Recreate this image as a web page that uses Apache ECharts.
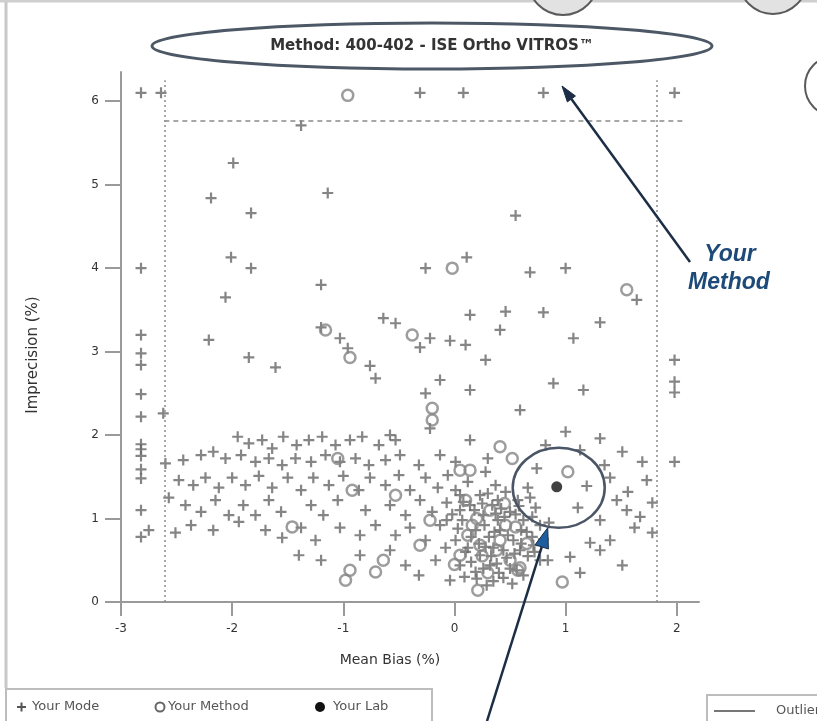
<!DOCTYPE html>
<html>
<head>
<meta charset="utf-8">
<script src="https://cdn.jsdelivr.net/npm/echarts@6/dist/echarts.min.js"></script>
<style>
  html, body { margin: 0; padding: 0; background: #ffffff; }
  #chart { width: 817px; height: 721px; }
</style>
</head>
<body>
<div id="chart"></div>
<script>
// Axis ticks
const xTicks = [-3, -2, -1, 0, 1, 2];
const yTicks = [0, 1, 2, 3, 4, 5, 6];

// Quality limits (mean bias and imprecision)
const biasLimits = [-2.61, 1.82];
const imprecisionLimit = 5.76;

// Peer labs, all methods (mean bias %, imprecision %)
const modePoints = [
  [-2.82, 6.1], [-2.64, 6.1], [-0.31, 6.1], [0.08, 6.1], [0.80, 6.1], [1.98, 6.1],
  [-1.38, 5.71], [-1.99, 5.26], [-2.19, 4.84], [-1.83, 4.66], [-1.14, 4.90], [0.55, 4.63],
  [-2.82, 4.0], [-2.01, 4.13], [-1.83, 4.0], [-2.06, 3.65], [-0.26, 4.0], [0.11, 4.13],
  [0.68, 3.95], [1.0, 4.0], [1.64, 3.62], [-1.20, 3.80], [-2.21, 3.14], [-1.20, 3.29],
  [-1.03, 3.16], [-0.96, 3.04], [-0.64, 3.40], [-0.53, 3.34], [-0.22, 3.16], [-0.04, 3.13],
  [0.10, 3.08], [0.14, 3.44], [0.46, 3.48], [-0.76, 2.83], [-0.71, 2.68], [-0.31, 3.05],
  [-0.13, 2.66], [0.28, 2.90], [0.41, 3.26], [0.80, 3.47], [1.31, 3.35], [1.07, 3.16],
  [-0.22, 2.08], [-0.26, 2.50], [0.14, 2.54], [0.59, 2.30], [1.16, 2.54], [0.89, 2.62],
  [-1.85, 2.93], [-1.61, 2.81], [-0.58, 2.00], [-2.62, 2.26], [-2.51, 0.83],
  [-2.82, 3.2], [-2.82, 2.98], [-2.82, 2.84], [-2.82, 2.49], [-2.82, 2.22], [-2.82, 1.89],
  [-2.82, 1.83], [-2.82, 1.75], [-2.82, 1.59], [-2.82, 1.48], [-2.82, 1.10], [-2.82, 0.78],
  [1.98, 2.90], [1.98, 2.64], [1.98, 2.51], [1.98, 1.68],
  [-1.95, 1.98], [-1.85, 1.90], [-1.73, 1.94], [-1.64, 1.84], [-1.54, 1.98], [-1.42, 1.88],
  [-1.31, 1.94], [-1.19, 1.98], [-1.07, 1.88], [-0.94, 1.94], [-0.83, 1.98], [-0.68, 1.88],
  [-0.53, 1.94], [0.14, 1.94], [0.82, 1.88], [1.0, 2.04], [1.31, 1.96],
  [-2.60, 1.66], [-2.44, 1.70], [-2.28, 1.76], [-2.17, 1.80], [-2.06, 1.72], [-1.92, 1.76],
  [-1.79, 1.68], [-1.67, 1.72], [-1.55, 1.64], [-1.43, 1.72], [-1.29, 1.68], [-1.16, 1.76],
  [-1.03, 1.68], [-0.89, 1.72], [-0.77, 1.64], [-0.62, 1.70], [-0.49, 1.76], [-0.32, 1.64],
  [-0.13, 1.76], [0.01, 1.68], [0.30, 1.72], [0.74, 1.60], [1.13, 1.82], [1.35, 1.64],
  [1.69, 1.68], [1.51, 1.80],
  [-2.48, 1.46], [-2.35, 1.40], [-2.24, 1.49], [-2.12, 1.37], [-2.00, 1.49], [-1.88, 1.40],
  [-1.76, 1.51], [-1.64, 1.37], [-1.50, 1.49], [-1.38, 1.34], [-1.27, 1.49], [-1.13, 1.40],
  [-1.00, 1.51], [-0.86, 1.34], [-0.76, 1.49], [-0.62, 1.40], [-0.50, 1.52], [-0.40, 1.34],
  [-0.26, 1.49], [-0.15, 1.37], [-0.06, 1.52], [0.37, 1.40], [1.19, 1.39], [1.73, 1.46],
  [1.56, 1.32], [1.40, 1.49],
  [-2.57, 1.25], [-2.42, 1.16], [-2.28, 1.08], [-2.15, 1.22], [-2.03, 1.04], [-1.90, 1.16],
  [-1.79, 1.04], [-1.67, 1.22], [-1.56, 1.08], [-1.29, 1.16], [-1.18, 1.04], [-1.05, 1.22],
  [-0.80, 1.10], [-0.58, 1.16], [-0.44, 1.04], [-0.31, 1.22], [-0.20, 1.08], [-0.07, 1.19],
  [0.05, 1.28], [1.46, 1.22], [1.55, 1.10], [1.67, 1.02], [1.78, 1.19], [1.11, 1.13], [1.31, 0.98],
  [-2.75, 0.86], [-2.37, 0.92], [-2.17, 0.86], [-1.94, 0.96], [-1.70, 0.86], [-1.55, 0.77],
  [-1.38, 0.89], [-1.25, 0.74], [-1.03, 0.89], [-0.85, 0.80], [-0.71, 0.92], [-0.53, 0.80],
  [-0.40, 0.89], [-0.26, 0.74], [-0.13, 0.92], [1.22, 0.71], [1.40, 0.74], [1.78, 0.83], [1.62, 0.89],
  [-1.40, 0.56], [-1.20, 0.50], [-0.85, 0.56], [-0.58, 0.62], [-0.44, 0.44], [-0.32, 0.32],
  [-0.17, 0.50], [1.04, 0.54], [1.13, 0.35], [1.51, 0.44], [1.31, 0.62], [0.84, 0.50],
  [0.01, 1.34], [0.12, 1.44], [0.23, 1.28], [0.34, 1.16], [0.46, 1.32], [0.57, 1.22],
  [0.66, 1.37], [0.14, 1.16], [0.26, 1.04], [0.39, 0.98], [0.50, 1.08], [0.62, 0.98],
  [0.73, 1.13], [0.07, 0.98], [0.19, 0.86], [0.31, 0.78], [0.41, 0.86], [0.53, 0.74],
  [0.65, 0.84], [0.77, 0.92], [0.01, 0.74], [0.12, 0.65], [0.23, 0.56], [0.35, 0.65],
  [0.47, 0.53], [0.59, 0.62], [0.71, 0.68], [0.05, 0.44], [0.19, 0.36], [0.32, 0.44],
  [0.44, 0.29], [0.56, 0.38], [0.29, 0.20], [-0.04, 0.26], [-0.07, 0.98], [-0.08, 0.65],
  [0.77, 0.50], [0.05, 1.10], [0.39, 1.22], [0.28, 1.56],
  [0.08, 1.20], [0.18, 1.10], [0.30, 1.30], [0.42, 1.12], [0.55, 1.05], [0.68, 1.25],
  [0.03, 0.88], [0.15, 0.78], [0.27, 0.92], [0.36, 0.84], [0.48, 0.80], [0.60, 0.86],
  [0.70, 0.78], [0.10, 0.60], [0.22, 0.70], [0.33, 0.55], [0.44, 0.62], [0.54, 0.58],
  [0.66, 0.55], [0.15, 0.48], [0.26, 0.40], [0.38, 0.46], [0.50, 0.40], [0.62, 0.32],
  [0.40, 0.35], [0.20, 0.28], [0.35, 0.25], [0.52, 0.22], [0.09, 0.30], [0.58, 1.15],
  [0.45, 1.02], [0.25, 1.18], [0.37, 1.06], [0.60, 0.70], [0.72, 0.60], [-0.02, 1.05],
  [0.80, 0.75], [0.85, 0.95], [0.70, 1.02], [0.28, 0.66]
];

// Peer labs on the same method
const methodPoints = [
  [-0.96, 6.07], [-1.16, 3.26], [-0.94, 2.93], [-0.38, 3.20], [-0.02, 4.0], [1.55, 3.74],
  [-0.20, 2.32], [-0.20, 2.18], [0.41, 1.86], [0.52, 1.72], [1.02, 1.56], [-1.46, 0.90],
  [-1.05, 1.72], [-0.92, 1.34], [-0.53, 1.28], [-0.94, 0.38], [-0.71, 0.36], [-0.98, 0.26],
  [-0.64, 0.50], [-0.31, 0.68], [0.05, 1.58], [0.14, 1.58], [0.05, 0.56], [0.23, 0.68],
  [0.41, 0.74], [0.50, 0.50], [0.59, 0.41], [0.21, 0.14], [0.97, 0.24], [0.57, 0.38],
  [0.16, 0.92], [0.32, 1.10], [0.46, 0.92], [0.10, 1.22], [-0.22, 0.98],
  [0.25, 0.55], [0.38, 0.62], [0.12, 0.80], [0.55, 0.90], [0.30, 0.35], [0.65, 0.70],
  [0.45, 1.18], [0.20, 1.00], [0.00, 0.45]
];

// This laboratory
const labPoints = [[0.92, 1.38]];

const methodTitle = 'Method: 400-402 - ISE Ortho VITROS\u2122';
const FONT = '"DejaVu Sans", "Liberation Sans", sans-serif';
const GREY = '#9a9a9a';
const plusPath = 'path://M4,0h2v10h-2z M0,4h10v2h-10z';

const chart = echarts.init(document.getElementById('chart'), null, { renderer: 'canvas' });

const option = {
  animation: false,
  backgroundColor: '#ffffff',
  grid: { left: 121, right: 118, top: 72, bottom: 119, containLabel: false },
  xAxis: {
    type: 'value', min: -3, max: 2.2, interval: 1,
    splitLine: { show: false },
    axisLine: { onZero: false, lineStyle: { color: GREY, width: 2 } },
    axisTick: { length: 14, lineStyle: { color: GREY, width: 2 }, customValues: xTicks },
    axisLabel: { margin: 21, color: '#333', fontFamily: FONT, fontSize: 12, customValues: xTicks }
  },
  yAxis: {
    type: 'value', min: 0, max: 6.35, interval: 1,
    splitLine: { show: false },
    axisLine: { onZero: false, lineStyle: { color: GREY, width: 2 } },
    axisTick: { length: 16, lineStyle: { color: GREY, width: 2 }, customValues: yTicks },
    axisLabel: { margin: 22, color: '#333', fontFamily: FONT, fontSize: 12, customValues: yTicks }
  },
  series: [
    {
      name: 'Limits', type: 'line', data: [], silent: true,
      markLine: {
        symbol: 'none', silent: true, label: { show: false },
        lineStyle: { color: '#8a8a8a', width: 1.5, type: [2, 3] },
        data: [
          [{ coord: [biasLimits[0], 0] }, { coord: [biasLimits[0], 6.25] }],
          [{ coord: [biasLimits[1], 0] }, { coord: [biasLimits[1], 6.25] }],
          [{ coord: [biasLimits[0], imprecisionLimit], lineStyle: { type: [5, 4] } },
           { coord: [2.05, imprecisionLimit] }]
        ]
      }
    },
    {
      name: 'Your Mode', type: 'scatter', data: modePoints,
      symbol: plusPath, symbolSize: 11,
      itemStyle: { color: '#666666' }
    },
    {
      name: 'Your Method', type: 'scatter', data: methodPoints,
      symbol: 'circle', symbolSize: 11,
      itemStyle: { color: 'rgba(255,255,255,0)', borderColor: '#858585', borderWidth: 2.5 }
    },
    {
      name: 'Your Lab', type: 'scatter', data: labPoints,
      symbol: 'circle', symbolSize: 11, z: 5,
      itemStyle: { color: '#111111' }
    }
  ]
};
chart.setOption(option);

// Annotation overlays
function arrow(x1, y1, x2, y2, lineColor, headColor, len, wid) {
  const dx = x2 - x1, dy = y2 - y1;
  const d = Math.sqrt(dx * dx + dy * dy);
  const ux = dx / d, uy = dy / d;
  const bx = x2 - ux * len, by = y2 - uy * len;
  const nx = -uy, ny = ux;
  return [
    { type: 'line', shape: { x1: x1, y1: y1, x2: bx, y2: by },
      style: { stroke: lineColor, lineWidth: 2.5 }, z: 20 },
    { type: 'polygon',
      shape: { points: [[x2, y2], [bx + nx * wid / 2, by + ny * wid / 2], [bx - nx * wid / 2, by - ny * wid / 2]] },
      style: { fill: headColor, stroke: lineColor, lineWidth: 1 }, z: 21 }
  ];
}

const lab = chart.convertToPixel({ gridIndex: 0 }, labPoints[0]);
const labTip = [lab[0] - 9, lab[1] + 41];

const graphics = [
  // outer panel frame
  { type: 'line', shape: { x1: 6, y1: 0, x2: 6, y2: 688 }, style: { stroke: '#c8c8c8', lineWidth: 3 } },
  { type: 'line', shape: { x1: 0, y1: 1, x2: 817, y2: 1 }, style: { stroke: '#cfcfcf', lineWidth: 3 } },
  // partially visible round buttons along the edges
  { type: 'circle', shape: { cx: 563, cy: -20, r: 35 }, style: { fill: '#e2e2e2', stroke: '#5a5a5a', lineWidth: 2 } },
  { type: 'circle', shape: { cx: 773, cy: -20, r: 34 }, style: { fill: '#e2e2e2', stroke: '#5a5a5a', lineWidth: 2 } },
  { type: 'circle', shape: { cx: 835, cy: 86, r: 30 }, style: { fill: '#ffffff', stroke: '#5a5a5a', lineWidth: 2 } },
  // method caption
  { type: 'ellipse', shape: { cx: 432, cy: 46, rx: 280, ry: 23 },
    style: { fill: '#ffffff', stroke: '#4d5866', lineWidth: 3 }, z: 10 },
  { type: 'text', x: 432, y: 46, z: 11,
    style: { text: methodTitle, fill: '#333', font: 'bold 15px ' + FONT, align: 'center', verticalAlign: 'middle' } },
  // axis titles
  { type: 'text', x: 33, y: 355, rotation: Math.PI / 2,
    style: { text: 'Imprecision (%)', fill: '#333', font: '15px ' + FONT, align: 'center', verticalAlign: 'middle' } },
  { type: 'text', x: 390, y: 660,
    style: { text: 'Mean Bias (%)', fill: '#333', font: '14px ' + FONT, align: 'center', verticalAlign: 'middle' } },
  // "Your Method" callout
  { type: 'text', x: 730, y: 255, z: 22,
    style: { text: 'Your', fill: '#1d4a78', font: 'italic bold 23px "Liberation Sans", Arial, sans-serif', align: 'center', verticalAlign: 'middle' } },
  { type: 'text', x: 729, y: 283, z: 22,
    style: { text: 'Method', fill: '#1d4a78', font: 'italic bold 23px "Liberation Sans", Arial, sans-serif', align: 'center', verticalAlign: 'middle' } },
  ...arrow(690, 262, 562, 86, '#1c2e45', '#1c2e45', 16, 10),
  // highlight around this lab
  { type: 'ellipse', shape: { cx: lab[0] + 2, cy: lab[1] + 1, rx: 46, ry: 40 },
    style: { fill: 'none', stroke: '#4a5566', lineWidth: 2.5 }, z: 15 },
  ...arrow(487, 721, labTip[0], labTip[1], '#1c2e45', '#1f5fa0', 20, 14),
  // legend (left)
  { type: 'rect', shape: { x: 6, y: 689, width: 426, height: 40 },
    style: { fill: '#ffffff', stroke: '#bdbdbd', lineWidth: 2 } },
  { type: 'rect', shape: { x: 17, y: 706, width: 9, height: 2 }, style: { fill: '#555' } },
  { type: 'rect', shape: { x: 20.5, y: 702.5, width: 2, height: 9 }, style: { fill: '#555' } },
  { type: 'text', x: 32, y: 707, style: { text: 'Your Mode', fill: '#555', font: '13px ' + FONT, verticalAlign: 'middle' } },
  { type: 'circle', shape: { cx: 160, cy: 707, r: 4.5 }, style: { fill: 'none', stroke: '#666', lineWidth: 2 } },
  { type: 'text', x: 168, y: 707, style: { text: 'Your Method', fill: '#555', font: '13px ' + FONT, verticalAlign: 'middle' } },
  { type: 'circle', shape: { cx: 320, cy: 707, r: 5 }, style: { fill: '#111' } },
  { type: 'text', x: 333, y: 707, style: { text: 'Your Lab', fill: '#555', font: '13px ' + FONT, verticalAlign: 'middle' } },
  // legend (right)
  { type: 'rect', shape: { x: 707, y: 695, width: 130, height: 40 },
    style: { fill: '#ffffff', stroke: '#bdbdbd', lineWidth: 2 } },
  { type: 'line', shape: { x1: 714, y1: 711, x2: 755, y2: 711 }, style: { stroke: '#777', lineWidth: 2 } },
  { type: 'text', x: 776, y: 711, style: { text: 'Outlier Limits', fill: '#555', font: '13px ' + FONT, verticalAlign: 'middle' } }
];

chart.setOption({ graphic: graphics });
</script>
</body>
</html>
